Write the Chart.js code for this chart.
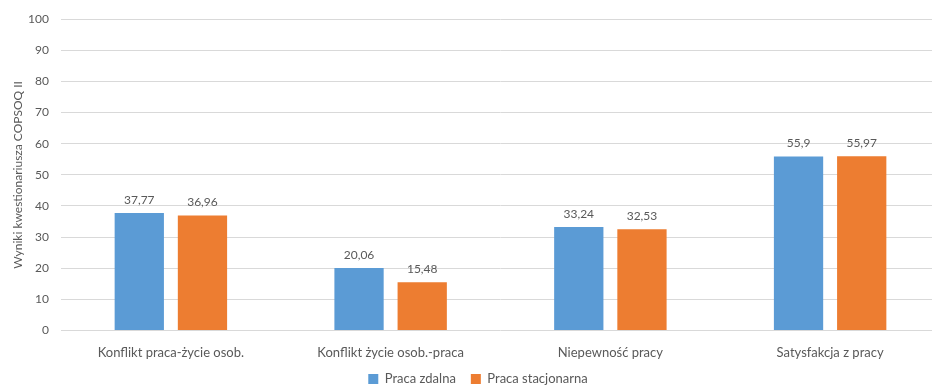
<!DOCTYPE html>
<html>
<head>
<meta charset="utf-8">
<script src="https://cdn.jsdelivr.net/npm/chart.js@4.4.0/dist/chart.umd.min.js"></script>
<style>
  html, body { margin: 0; padding: 0; background: #fff; overflow: hidden; }
  #clip { width: 932px; height: 386px; overflow: hidden; position: relative; }
  #wrap { width: 940px; height: 386px; position: absolute; left: 0; top: 0; }
</style>
</head>
<body>
<div id="clip"><div id="wrap"><canvas id="c"></canvas></div></div>
<script>
const categories = [
  'Konflikt praca-życie osob.',
  'Konflikt życie osob.-praca',
  'Niepewność pracy',
  'Satysfakcja z pracy'
];
const remoteValues = [37.77, 20.06, 33.24, 55.9];
const officeValues = [36.96, 15.48, 32.53, 55.97];
const seriesNames = ['Praca zdalna', 'Praca stacjonarna'];
const yTicks = [0, 10, 20, 30, 40, 50, 60, 70, 80, 90, 100];

const FONT = 'Lato, "Open Sans", sans-serif';
const GREY = '#595959';
const LEGEND_PAD = 15;
const PLOT_BOTTOM = 330.5;

// Writes each bar's value above it, with a comma as the decimal separator
const valueLabels = {
  id: 'valueLabels',
  afterDatasetsDraw(chart) {
    const ctx = chart.ctx;
    ctx.save();
    ctx.font = '12px ' + FONT;
    ctx.fillStyle = GREY;
    ctx.textAlign = 'center';
    ctx.textBaseline = 'alphabetic';
    chart.data.datasets.forEach((ds, i) => {
      chart.getDatasetMeta(i).data.forEach((bar, j) => {
        const txt = String(ds.data[j]).replace('.', ',');
        ctx.fillText(txt, bar.x, bar.y - 9);
      });
    });
    ctx.restore();
  }
};

// Places the legend row just under the category labels
const legendPlace = {
  id: 'legendPlace',
  afterLayout(chart) {
    const lg = chart.legend;
    if (!lg) return;
    const h = lg.bottom - lg.top;
    lg.top = 372.5 - LEGEND_PAD;
    lg.bottom = lg.top + h;
    lg.left += 8;
    lg.right += 8;
  }
};

const chart = new Chart(document.getElementById('c'), {
  type: 'bar',
  data: {
    labels: categories,
    datasets: [
      { label: seriesNames[0], data: remoteValues, backgroundColor: '#5B9BD5', borderWidth: 0 },
      { label: seriesNames[1], data: officeValues, backgroundColor: '#ED7D31', borderWidth: 0 }
    ]
  },
  options: {
    responsive: true,
    maintainAspectRatio: false,
    animation: false,
    layout: { padding: { top: 15, right: 0, left: 0, bottom: -30 } },
    datasets: { bar: { categoryPercentage: 0.575, barPercentage: 0.78 } },
    plugins: {
      legend: {
        position: 'bottom',
        labels: {
          font: { family: FONT, size: 13 },
          color: GREY,
          boxWidth: 10,
          boxHeight: 10,
          padding: LEGEND_PAD
        }
      },
      tooltip: { enabled: false }
    },
    scales: {
      x: {
        grid: { display: false },
        border: { display: false },
        ticks: { font: { family: FONT, size: 13 }, color: GREY, padding: 7, maxRotation: 0 },
        afterFit(axis) {
          // fill the space between the plot bottom and the legend box
          const lg = axis.chart.legend;
          const lh = lg ? lg.height : 38;
          axis.height = 386 + 30 - lh - PLOT_BOTTOM;
        }
      },
      y: {
        min: 0,
        max: 100,
        afterBuildTicks(axis) { axis.ticks = yTicks.map(v => ({ value: v })); },
        afterFit(axis) { axis.width = 61; },
        grid: { color: '#d9d9d9', lineWidth: 1, drawTicks: false },
        border: { display: false },
        ticks: { font: { family: FONT, size: 12 }, color: GREY, padding: 12 },
        title: {
          display: true,
          text: 'Wyniki kwestionariusza COPSOQ II',
          font: { family: FONT, size: 12 },
          color: GREY,
          padding: { top: 11, bottom: 0 }
        }
      }
    }
  },
  plugins: [valueLabels, legendPlace]
});
</script>
</body>
</html>
